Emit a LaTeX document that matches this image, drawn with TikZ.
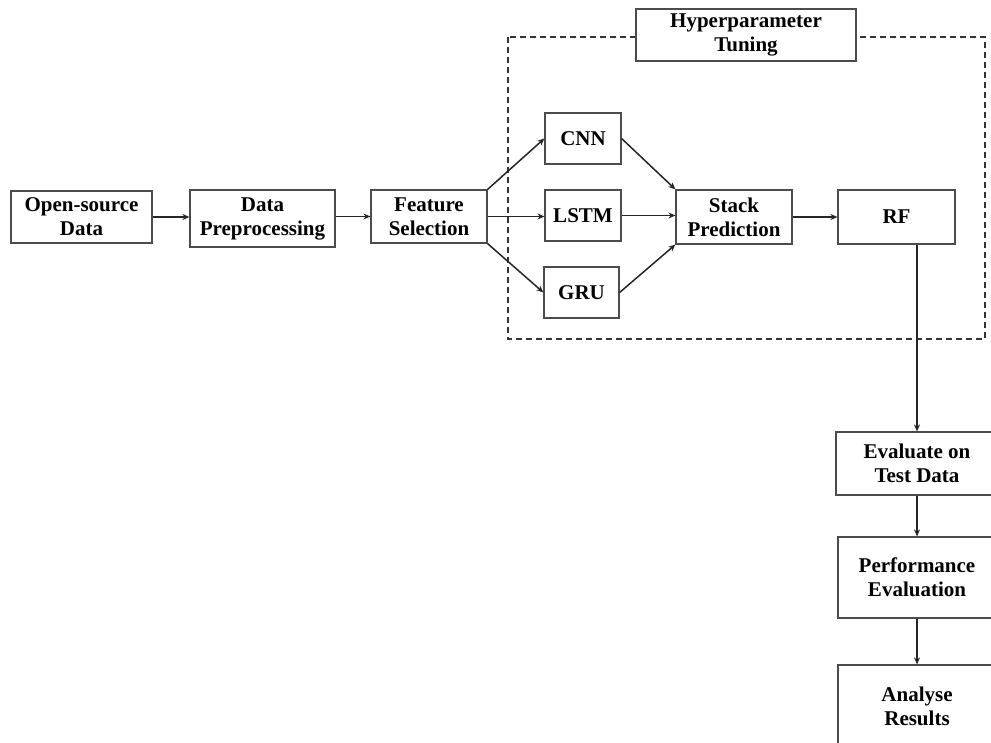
\documentclass[tikz,border=0pt]{standalone}
\usepackage{fontspec}
\setmainfont{Liberation Serif}
\usetikzlibrary{arrows.meta}
\tikzset{
  blk/.style={draw=black!70, line width=1.2pt, fill=white, align=center,
    inner sep=0pt, font=\fontsize{21}{24}\selectfont\bfseries, text=black},
  conn/.style={line width=1.5pt, draw=black!85,
    -{Stealth[length=7pt,width=6pt]}},
  frame/.style={line width=1.4pt, draw=black!80, dash pattern=on 6pt off 4pt}
}
\begin{document}
\begin{tikzpicture}[x=1pt,y=-1pt]
\useasboundingbox (0,0) rectangle (991,742);
\clip (0,0) rectangle (991,742);
\fill[white] (0,0) rectangle (991,742);

% tuning frame
\draw[frame] (508,37) rectangle (985,339);

% main pipeline
\node[blk, minimum width=141pt, minimum height=52pt] (open) at (81.5,217) {Open-source\\Data};
\node[blk, minimum width=145pt, minimum height=57pt] (prep) at (262.5,218.5) {Data\\Preprocessing};
\node[blk, minimum width=116pt, minimum height=53pt] (feat) at (429,216.5) {Feature\\Selection};

% base learners
\node[blk, minimum width=76pt, minimum height=51pt] (cnn) at (583,138.5) {CNN};
\node[blk, minimum width=76pt, minimum height=51pt] (lstm) at (583,215.5) {LSTM};
\node[blk, minimum width=75pt, minimum height=51pt] (gru) at (581.5,292.5) {GRU};

\node[blk, minimum width=116pt, minimum height=54pt] (stack) at (734,217) {Stack\\Prediction};
\node[blk, minimum width=117pt, minimum height=54pt] (rf) at (896.5,217) {RF};

\node[blk, minimum width=220pt, minimum height=52pt] (hyper) at (746,35) {Hyperparameter\\Tuning};

% evaluation column
\node[blk, minimum width=162pt, minimum height=63pt] (eval) at (917,463.5) {Evaluate on\\Test Data};
\node[blk, minimum width=158pt, minimum height=81pt] (perf) at (917,577.5) {Performance\\Evaluation};
\node[blk, minimum width=158pt, minimum height=82pt] (anal) at (917,706) {Analyse\\Results};

% connectors
\draw[conn] (open.east) -- (open.east -| prep.west);
\draw[conn] (feat.west -| prep.east) -- (feat.west);
\draw[conn] (feat.north east) -- (cnn.west);
\draw[conn] (feat.east) -- (feat.east -| lstm.west);
\draw[conn] (feat.south east) -- (gru.west);
\draw[conn] (cnn.east) -- (stack.north west);
\draw[conn] (lstm.east) -- (lstm.east -| stack.west);
\draw[conn] (gru.east) -- (stack.south west);
\draw[conn] (stack.east) -- (rf.west);
\draw[conn] (rf.south -| eval.north) -- (eval.north);
\draw[conn] (eval.south) -- (perf.north);
\draw[conn] (perf.south) -- (anal.north);
\end{tikzpicture}
\end{document}
